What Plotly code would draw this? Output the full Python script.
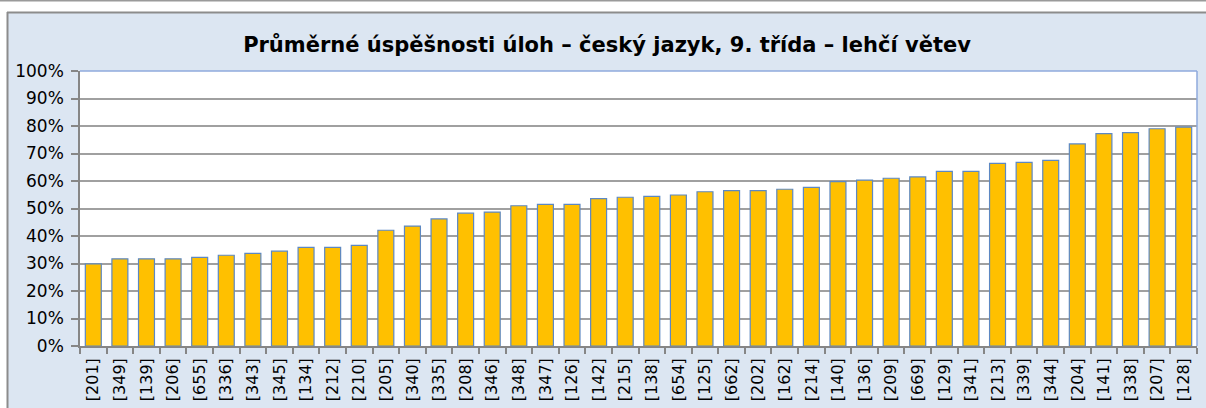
import plotly.graph_objects as go

title_text = "Průměrné úspěšnosti úloh – český jazyk, 9. třída – lehčí větev"

categories = ["[201]", "[349]", "[139]", "[206]", "[655]", "[336]", "[343]", "[345]", "[134]", "[212]",
              "[210]", "[205]", "[340]", "[335]", "[208]", "[346]", "[348]", "[347]", "[126]", "[142]",
              "[215]", "[138]", "[654]", "[125]", "[662]", "[202]", "[162]", "[214]", "[140]", "[136]",
              "[209]", "[669]", "[129]", "[341]", "[213]", "[339]", "[344]", "[204]", "[141]", "[338]",
              "[207]", "[128]"]

success = [0.299, 0.317, 0.317, 0.317, 0.322, 0.330, 0.337, 0.345, 0.359, 0.359,
           0.366, 0.421, 0.436, 0.462, 0.483, 0.487, 0.510, 0.515, 0.515, 0.536,
           0.541, 0.544, 0.549, 0.561, 0.565, 0.565, 0.570, 0.577, 0.598, 0.603,
           0.610, 0.615, 0.635, 0.635, 0.664, 0.668, 0.675, 0.735, 0.772, 0.776,
           0.790, 0.796]

y_ticks = [0, 0.1, 0.2, 0.3, 0.4, 0.5, 0.6, 0.7, 0.8, 0.9, 1.0]

W, H = 1206, 408
L, R, T, B = 80, 9, 71, 62
pw, ph = W - L - R, H - T - B


def px_x(p):
    return (p - L) / pw


def px_y(p):
    return (H - B - p) / ph


fig = go.Figure()
fig.add_trace(go.Bar(
    x=categories,
    y=success,
    marker=dict(color="#FFC000", line=dict(color="#5D88C2", width=1.2)),
    width=0.6,
    hoverinfo="x+y",
))

shapes = [
    dict(type="rect", xref="paper", yref="paper", x0=px_x(-5), x1=px_x(W + 5), y0=px_y(12), y1=px_y(-5),
         fillcolor="white", line=dict(width=0), layer="below"),
    dict(type="rect", xref="paper", yref="paper", x0=px_x(-5), x1=px_x(7), y0=px_y(H + 5), y1=px_y(-5),
         fillcolor="white", line=dict(width=0), layer="below"),
    dict(type="line", xref="paper", yref="paper", x0=px_x(0), x1=px_x(W), y0=px_y(0.7), y1=px_y(0.7),
         line=dict(color="#9A9A9A", width=1.5), layer="below"),
    dict(type="line", xref="paper", yref="paper", x0=px_x(7), x1=px_x(W + 2), y0=px_y(12.5), y1=px_y(12.5),
         line=dict(color="#8C8C8C", width=2), layer="below"),
    dict(type="line", xref="paper", yref="paper", x0=px_x(7.5), x1=px_x(7.5), y0=px_y(12), y1=px_y(H + 2),
         line=dict(color="#8C8C8C", width=2), layer="below"),
    dict(type="line", xref="paper", yref="paper", x0=0, x1=1, y0=1, y1=1,
         line=dict(color="#8FAADC", width=1.5), layer="above"),
    dict(type="line", xref="paper", yref="paper", x0=1, x1=1, y0=0, y1=1,
         line=dict(color="#8FAADC", width=1.5), layer="above"),
]

fig.update_layout(
    width=W, height=H,
    margin=dict(l=L, r=R, t=T, b=B, pad=0, autoexpand=False),
    paper_bgcolor="#DCE6F2",
    plot_bgcolor="white",
    showlegend=False,
    bargap=0.4,
    title=dict(text="<b>" + title_text + "</b>", x=607 / W, xanchor="center",
               y=1 - 45 / H, yanchor="middle", yref="container", xref="container",
               font=dict(family="DejaVu Sans", size=21, color="#000000")),
    font=dict(family="DejaVu Sans", size=16, color="#000000"),
    shapes=shapes,
)

fig.update_xaxes(
    type="category",
    tickangle=-90,
    tickfont=dict(family="DejaVu Sans", size=16, color="#000000"),
    ticks="outside", ticklen=6, tickcolor="#868686", tickwidth=1.5,
    tickson="boundaries",
    ticklabelstandoff=4,
    showline=True, linecolor="#868686", linewidth=1.5,
    showgrid=False,
    automargin=False,
    range=[-0.5, len(categories) - 0.5],
    fixedrange=True,
)

fig.update_yaxes(
    range=[0, 1],
    tickvals=y_ticks,
    tickformat=".0%",
    tickfont=dict(family="DejaVu Sans", size=17, color="#000000"),
    ticks="outside", ticklen=7, tickcolor="#868686", tickwidth=1.5,
    ticklabelstandoff=4,
    showline=True, linecolor="#868686", linewidth=1.5,
    showgrid=True, gridcolor="#A0A0A0", gridwidth=1.5,
    zeroline=False,
    automargin=False,
    fixedrange=True,
)

fig.write_html("out.html", config={"displayModeBar": False},
               post_script="document.body.style.margin='0';document.body.style.overflow='hidden';")
